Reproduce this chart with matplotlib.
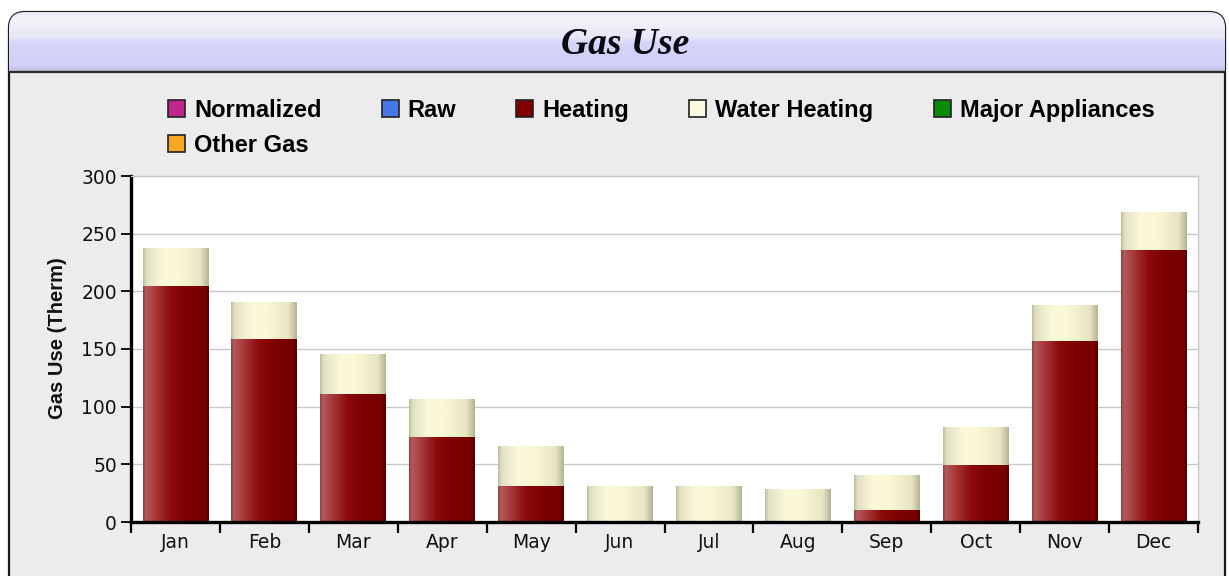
import numpy as np
import matplotlib
matplotlib.use('Agg')
import matplotlib.pyplot as plt
from matplotlib.patches import FancyBboxPatch, Patch
from matplotlib.colors import LinearSegmentedColormap

# ---- data ----
months = ['Jan', 'Feb', 'Mar', 'Apr', 'May', 'Jun', 'Jul', 'Aug', 'Sep', 'Oct', 'Nov', 'Dec']
heating = [205, 159, 111, 74, 31, 0, 0, 0, 10, 49, 157, 236]
water_heating = [33, 32, 35, 33, 35, 31, 31, 29, 31, 33, 31, 33]
legend_labels = ['Normalized', 'Raw', 'Heating', 'Water Heating', 'Major Appliances', 'Other Gas']
legend_colors = ['#C0268C', '#4577E6', '#800000', '#FAFAE0', '#0A8A0A', '#F5A623']
y_ticks = [0, 50, 100, 150, 200, 250, 300]
title = 'Gas Use'
y_label = 'Gas Use (Therm)'

W, H = 1229, 576
fig = plt.figure(figsize=(W / 100, H / 100), dpi=100)
fig.patch.set_facecolor('white')

# ---- background panel (pixel coordinates) ----
bg = fig.add_axes([0, 0, 1, 1])
bg.set_xlim(0, W)
bg.set_ylim(H, 0)
bg.axis('off')
bg.set_zorder(0)
panel = FancyBboxPatch((9, 12), 1216, 640, boxstyle='round,pad=0,rounding_size=16',
                       fc='#ECECEC', ec='#1a1a1a', lw=1.6, zorder=1)
bg.add_patch(panel)
hdr_cmap = LinearSegmentedColormap.from_list('hdr', [
    (0.0, '#E6E6EE'), (0.08, '#F4F4FB'), (0.42, '#E8E8F6'),
    (0.5, '#D6D6FA'), (0.9, '#D0D0F8'), (1.0, '#BCBCDA')])
grad = np.linspace(0, 1, 128).reshape(-1, 1)
im = bg.imshow(grad, cmap=hdr_cmap, extent=(9, 1225, 72, 12), origin='upper',
               aspect='auto', interpolation='bilinear', zorder=2)
im.set_clip_path(panel)
bg.plot([9, 1225], [72, 72], color='#2a2a2a', lw=1.6, zorder=3, solid_capstyle='butt')
bg.set_xlim(0, W)
bg.set_ylim(H, 0)
bg.text(625, 45, title, family='Liberation Serif', weight='bold', style='italic',
        size=27, ha='center', va='center', color='#0A0A14', zorder=4)

# ---- main axes ----
ax = fig.add_axes([131 / W, 1 - 522 / H, 1067 / W, 346 / H])
ax.set_zorder(1)
ax.set_facecolor('white')
x = np.arange(len(months))
bw = 0.74
b1 = ax.bar(x, heating, width=bw, color='#800000', zorder=2)
b2 = ax.bar(x, water_heating, width=bw, bottom=heating, color='#FAF8D8', zorder=2)

heat_cmap = LinearSegmentedColormap.from_list('heat', [
    (0.0, '#8E4040'), (0.04, '#B45A5C'), (0.18, '#A83A3C'), (0.42, '#8C0A0A'),
    (0.7, '#7C0000'), (0.94, '#780000'), (1.0, '#520000')])
cream_cmap = LinearSegmentedColormap.from_list('cream', [
    (0.0, '#BDBDA0'), (0.05, '#E2E0C2'), (0.3, '#FBF9DA'), (0.55, '#FBF8D4'),
    (0.88, '#E6E4C2'), (1.0, '#B4B496')])
hgrad = np.linspace(0, 1, 128).reshape(1, -1)
for bars, cm in ((b1, heat_cmap), (b2, cream_cmap)):
    for p in bars:
        bb = p.get_bbox()
        if bb.height <= 0:
            continue
        gi = ax.imshow(hgrad, cmap=cm, extent=(bb.x0, bb.x1, bb.y0, bb.y1), origin='lower',
                       aspect='auto', interpolation='bilinear', zorder=2.5)
        gi.set_clip_path(p)

ax.set_xlim(-0.5, len(months) - 0.5)
ax.set_ylim(0, 300)
ax.set_yticks(y_ticks)
ax.set_xticks(x)
ax.set_xticklabels(months)
ax.set_xticks(np.arange(len(months) + 1) - 0.5, minor=True)
ax.tick_params(axis='x', which='major', length=0, pad=8, labelsize=13.5, colors='#111111')
ax.tick_params(axis='x', which='minor', length=8, width=1.6, color='black', direction='out')
ax.tick_params(axis='y', which='major', length=7, width=1.4, pad=3, labelsize=13.5,
               colors='#111111')
for lab in ax.get_xticklabels() + ax.get_yticklabels():
    lab.set_family('DejaVu Sans')
ax.grid(axis='y', color='#C8C8C8', lw=1)
ax.set_axisbelow(True)
for s in ('left', 'bottom'):
    ax.spines[s].set_color('black')
    ax.spines[s].set_linewidth(2.4)
for s in ('top', 'right'):
    ax.spines[s].set_color('#C8C8C8')
    ax.spines[s].set_linewidth(1)
ax.set_ylabel(y_label, family='Liberation Sans', weight='bold', size=14.5, color='#111111')
ax.yaxis.set_label_coords(-0.060, 0.53)

# ---- legend ----
order = [0, 5, 1, 2, 3, 4]
handles = [Patch(facecolor=legend_colors[i], edgecolor='#222222', linewidth=1.2) for i in order]
labels = [legend_labels[i] for i in order]
fig.legend(handles, labels, ncol=5, loc='upper left', bbox_to_anchor=(168 / W, 1 - 99 / H),
           frameon=False, borderpad=0, borderaxespad=0,
           prop={'family': 'Liberation Sans', 'weight': 'bold', 'size': 17},
           handlelength=0.72, handleheight=0.72, handletextpad=0.38,
           columnspacing=2.55, labelspacing=0.5)

fig.savefig('out.png', dpi=100)
